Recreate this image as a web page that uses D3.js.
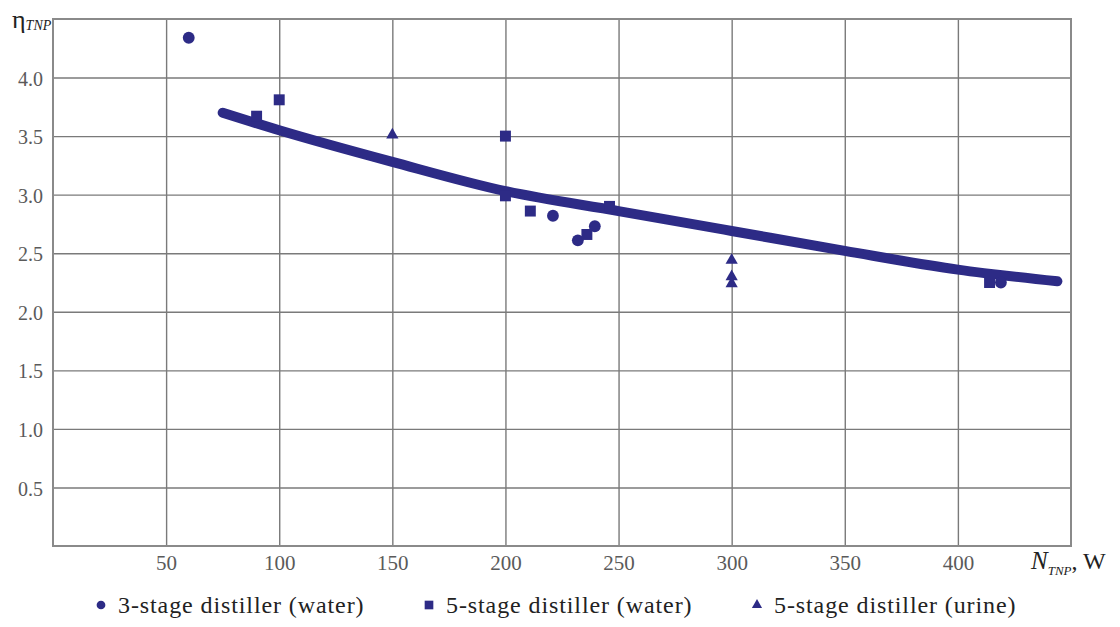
<!DOCTYPE html>
<html>
<head>
<meta charset="utf-8">
<script src="https://cdn.jsdelivr.net/npm/d3@7"></script>
<style>
  body { margin: 0; background: #fff; }
  svg { display: block; }
</style>
</head>
<body>
<svg width="1120" height="627"></svg>
<script>
// data
const circleX = [60, 221, 232, 239.5, 419];
const circleY = [4.34, 2.82, 2.61, 2.73, 2.25];

const squareX = [90, 100, 200, 200, 211, 236, 246, 414];
const squareY = [3.67, 3.81, 3.5, 2.99, 2.86, 2.66, 2.9, 2.25];

const triangleX = [150, 300, 300, 300];
const triangleY = [3.51, 2.44, 2.3, 2.24];

// fitted trend line
const fitX = [75, 100, 150, 200, 250, 300, 350, 400, 444];
const fitY = [3.7, 3.55, 3.28, 3.03, 2.86, 2.69, 2.52, 2.36, 2.26];

const xTicks = [50, 100, 150, 200, 250, 300, 350, 400];
const yTicks = [0.5, 1.0, 1.5, 2.0, 2.5, 3.0, 3.5, 4.0];

const legendLabels = [
  "3-stage distiller (water)",
  "5-stage distiller (water)",
  "5-stage distiller (urine)",
];

const blue = "#2d2b86";
const serif =
  "Liberation Serif, Tinos, Times New Roman, Times, Noto Serif, DejaVu Serif, serif";

const svg = d3.select("svg");
const plotLeft = 53, plotTop = 19, plotRight = 1071, plotBottom = 546;

const x = d3.scaleLinear().domain([0, 450]).range([plotLeft, plotRight]);
const y = d3.scaleLinear().domain([0, 4.5]).range([plotBottom, plotTop]);

// grid + x labels
const gx = svg
  .append("g")
  .attr("transform", `translate(0,${plotBottom})`)
  .call(
    d3
      .axisBottom(x)
      .tickValues(xTicks)
      .tickSize(-(plotBottom - plotTop))
      .tickPadding(9)
      .tickFormat(d3.format("d"))
  );
gx.attr("font-family", serif);
gx.select(".domain").remove();
gx.selectAll("line").attr("stroke", "#7a7a7a").attr("stroke-width", 1.4);
gx.selectAll("text")
  .style("font-family", serif)
  .attr("font-size", 21)
  .attr("fill", "#5a5a5a");

const gy = svg
  .append("g")
  .attr("transform", `translate(${plotLeft},0)`)
  .call(
    d3
      .axisLeft(y)
      .tickValues(yTicks)
      .tickSize(-(plotRight - plotLeft))
      .tickPadding(10)
      .tickFormat(d3.format(".1f"))
  );
gy.attr("font-family", serif);
gy.select(".domain").remove();
gy.selectAll("line").attr("stroke", "#7a7a7a").attr("stroke-width", 1.4);
gy.selectAll("text")
  .style("font-family", serif)
  .attr("font-size", 20)
  .attr("dy", "0.38em")
  .attr("fill", "#5a5a5a");

// frame
svg
  .append("rect")
  .attr("x", plotLeft)
  .attr("y", plotTop)
  .attr("width", plotRight - plotLeft)
  .attr("height", plotBottom - plotTop)
  .attr("fill", "none")
  .attr("stroke", "#8a8a8a")
  .attr("stroke-width", 2);

// trend curve
const fit = fitX.map((v, i) => [v, fitY[i]]);
svg
  .append("path")
  .datum(fit)
  .attr("fill", "none")
  .attr("stroke", blue)
  .attr("stroke-width", 10)
  .attr("stroke-linecap", "round")
  .attr(
    "d",
    d3
      .line()
      .x((d) => x(d[0]))
      .y((d) => y(d[1]))
      .curve(d3.curveMonotoneX)
  );

// markers
const series = [
  { xs: circleX, ys: circleY, type: d3.symbolCircle, size: 110 },
  { xs: squareX, ys: squareY, type: d3.symbolSquare, size: 120 },
  { xs: triangleX, ys: triangleY, type: d3.symbolTriangle, size: 65 },
];

series.forEach((s) => {
  svg
    .append("g")
    .selectAll("path")
    .data(s.xs.map((v, i) => [v, s.ys[i]]))
    .join("path")
    .attr("transform", (d) => `translate(${x(d[0])},${y(d[1])})`)
    .attr("d", d3.symbol().type(s.type).size(s.size))
    .attr("fill", blue);
});

// axis titles
const yTitle = svg
  .append("text")
  .attr("x", 12)
  .attr("y", 28)
  .style("font-family", serif)
  .attr("fill", "#222");
yTitle.append("tspan").attr("font-size", 26).text("η");
yTitle
  .append("tspan")
  .attr("font-size", 14)
  .attr("font-style", "italic")
  .attr("dy", 2)
  .text("TNP");

const xTitle = svg
  .append("text")
  .attr("x", 1031)
  .attr("y", 569)
  .style("font-family", serif)
  .attr("fill", "#222");
xTitle
  .append("tspan")
  .attr("font-size", 25)
  .attr("font-style", "italic")
  .text("N");
xTitle
  .append("tspan")
  .attr("font-size", 13)
  .attr("font-style", "italic")
  .attr("dy", 6)
  .text("TNP");
xTitle.append("tspan").attr("font-size", 24).attr("dy", -6).text(", W");

// legend
const legendX = [101, 429, 757];
const legendTypes = [d3.symbolCircle, d3.symbolSquare, d3.symbolTriangle];
const legendSizes = [60, 75, 45];
const legend = svg
  .append("g")
  .selectAll("g")
  .data(legendLabels)
  .join("g")
  .attr("transform", (d, i) => `translate(${legendX[i]},605)`);

legend
  .append("path")
  .attr("d", (d, i) => d3.symbol().type(legendTypes[i]).size(legendSizes[i])())
  .attr("fill", blue);

legend
  .append("text")
  .attr("x", 17)
  .attr("y", 8)
  .style("font-family", serif)
  .style("letter-spacing", "0.9px")
  .attr("font-size", 24)
  .attr("fill", "#222")
  .text((d) => d);
</script>
</body>
</html>
